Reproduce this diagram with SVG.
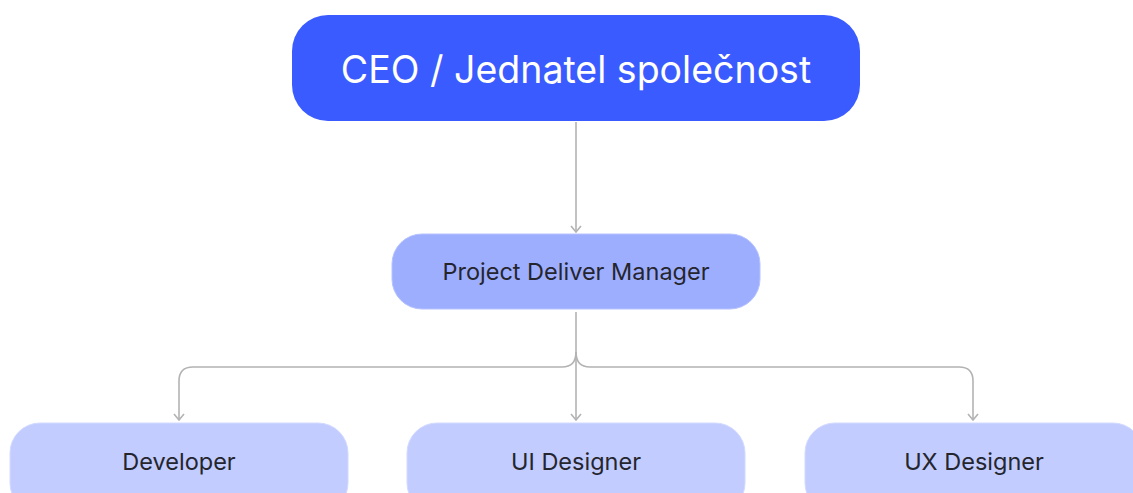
<svg xmlns="http://www.w3.org/2000/svg" width="1133" height="493" viewBox="0 0 1133 493">
<style>
.t{font-family:Inter,"Liberation Sans",sans-serif;text-anchor:middle}
.lbl{font-size:23.5px;fill:#25252d}
.c{fill:none;stroke:#b3b3b3;stroke-width:1.6}
.leaf{fill:#c2ccff;stroke:#d3daff;stroke-width:1}
</style>
<defs>
<marker id="ah" viewBox="0 0 12 12" refX="11" refY="6" markerWidth="12" markerHeight="12" markerUnits="userSpaceOnUse" orient="auto">
<path d="M5 1 L11 6 L5 11" fill="none" stroke="#b3b3b3" stroke-width="1.6"/>
</marker>
</defs>
<rect width="1133" height="493" fill="#ffffff"/>
<g id="connectors">
<path class="c" d="M576 122 V232" marker-end="url(#ah)"/>
<path class="c" d="M576 312 V420" marker-end="url(#ah)"/>
<path class="c" d="M576 352 Q576 367 562 367 H193 Q179 367 179 381 V420" marker-end="url(#ah)"/>
<path class="c" d="M576 352 Q576 367 590 367 H959 Q973 367 973 381 V420" marker-end="url(#ah)"/>
</g>
<g id="ceo">
<rect x="292" y="15" width="568" height="106" rx="36" fill="#3a5bff"/>
<text class="t" x="576" y="83" font-size="37.5" fill="#ffffff">CEO / Jednatel společnost</text>
</g>
<g id="pdm">
<rect x="392" y="234" width="368" height="75" rx="30" fill="#9eaeff" stroke="#b6c2ff" stroke-width="1"/>
<text class="t lbl" x="576" y="280">Project Deliver Manager</text>
</g>
<g id="developer">
<rect class="leaf" x="10" y="423" width="338" height="90" rx="30"/>
<text class="t lbl" x="179" y="470">Developer</text>
</g>
<g id="ui-designer">
<rect class="leaf" x="407" y="423" width="338" height="90" rx="30"/>
<text class="t lbl" x="576" y="470">UI Designer</text>
</g>
<g id="ux-designer">
<rect class="leaf" x="805" y="423" width="338" height="90" rx="30"/>
<text class="t lbl" x="974" y="470">UX Designer</text>
</g>
</svg>
